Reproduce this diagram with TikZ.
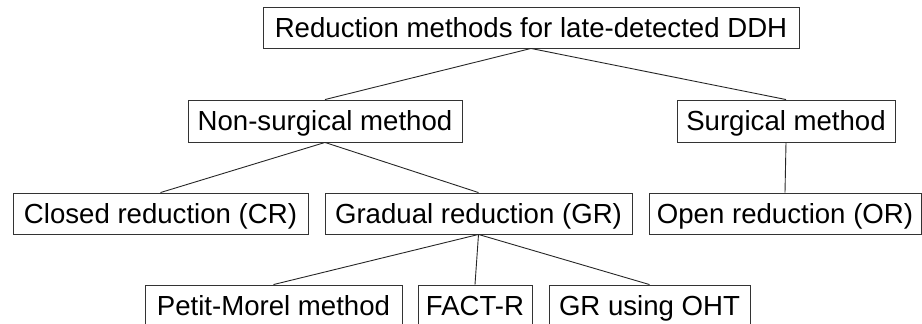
\documentclass[tikz,border=0pt]{standalone}
\usepackage{fontspec}
\setmainfont{Liberation Sans}
\begin{document}
\begin{tikzpicture}[x=1pt,y=-1pt,
  box/.style={draw=black!80, line width=0.9pt, fill=white, inner sep=0pt,
    minimum height=41pt, text height=19.8pt, text depth=0pt,
    font=\fontsize{27.6}{30}\selectfont, anchor=center},
  link/.style={draw=black!85, line width=0.9pt}]
\useasboundingbox (0,0) rectangle (922,324);
\clip (0,0) rectangle (922,324);
\node[box, minimum width=536pt] (root) at (531,27.5) {Reduction methods for late-detected DDH};
\node[box, minimum width=274pt, minimum height=42pt] (ns) at (325,121) {Non-surgical method};
\node[box, minimum width=218pt, minimum height=42pt] (sm) at (786,121) {Surgical method};
\node[box, minimum width=295pt] (cr) at (160.5,213.5) {Closed reduction (CR)};
\node[box, minimum width=307pt] (gr) at (478.5,213.5) {Gradual reduction (GR)};
\node[box, minimum width=272pt] (or) at (785,213.5) {Open reduction (OR)};
\node[box, minimum width=257pt] (pm) at (273.5,305.5) {Petit-Morel method};
\node[box, minimum width=114pt] (fr) at (475,305.5) {FACT-R};
\node[box, minimum width=201pt] (oht) at (649.5,305.5) {GR using OHT};
\draw[link] (root.south) -- (ns.north);
\draw[link] (root.south) -- (sm.north);
\draw[link] (ns.south) -- (cr.north);
\draw[link] (ns.south) -- (gr.north);
\draw[link] (sm.south) -- (or.north);
\draw[link] (gr.south) -- (pm.north);
\draw[link] (gr.south) -- (fr.north);
\draw[link] (gr.south) -- (oht.north);
\end{tikzpicture}
\end{document}
